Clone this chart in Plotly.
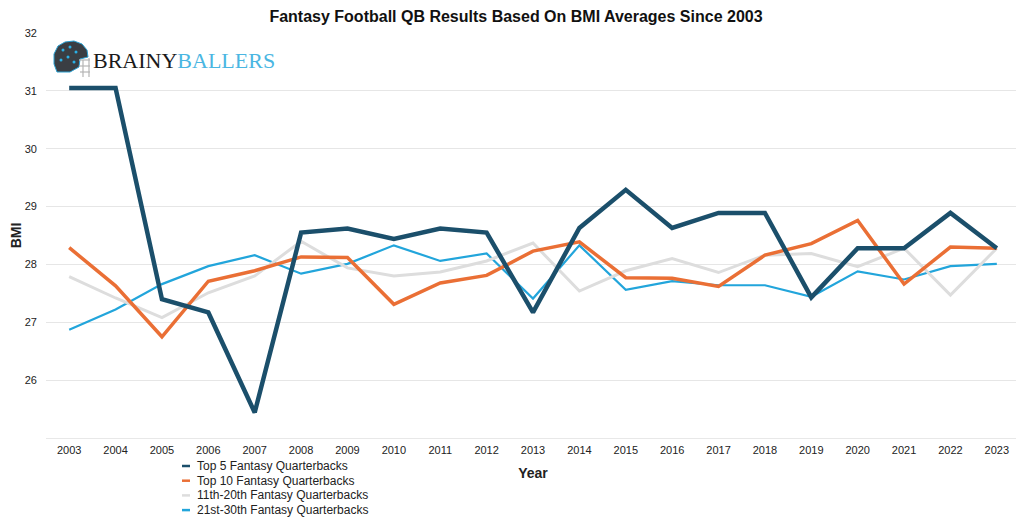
import plotly.graph_objects as go

years = list(range(2003, 2024))
top5 = [31.05, 31.05, 27.40, 27.17, 25.44, 28.55, 28.62, 28.44, 28.62, 28.55,
        27.17, 28.63, 29.29, 28.63, 28.89, 28.89, 27.43, 28.28, 28.28, 28.89, 28.28]
top10 = [28.29, 27.63, 26.75, 27.71, 27.89, 28.13, 28.12, 27.31, 27.68, 27.81,
         28.23, 28.39, 27.77, 27.76, 27.62, 28.16, 28.36, 28.76, 27.66, 28.30, 28.28]
qb11_20 = [27.79, 27.42, 27.08, 27.51, 27.80, 28.40, 27.94, 27.80, 27.87, 28.06,
           28.37, 27.54, 27.89, 28.10, 27.86, 28.16, 28.19, 27.96, 28.28, 27.47, 28.28]
qb21_30 = [26.87, 27.22, 27.66, 27.97, 28.16, 27.84, 28.01, 28.33, 28.06, 28.19,
           27.41, 28.33, 27.56, 27.71, 27.64, 27.64, 27.44, 27.88, 27.74, 27.97, 28.01]

names = ["Top 5 Fantasy Quarterbacks", "Top 10 Fantasy Quarterbacks",
         "11th-20th Fantasy Quarterbacks", "21st-30th Fantasy Quarterbacks"]
values = [top5, top10, qb11_20, qb21_30]
colors = ["#1b4f6b", "#ea6f35", "#dddddd", "#22a5db"]
widths = [4.5, 3.5, 3, 2.2]

# The page body adds an 8px offset; figure coords = screen coords - 8
OFF = 8
W, H = 1016, 509
L, R, T, B = 38, 4, 25, 79
PW, PH = W - L - R, H - T - B


def px(x):
    return (x - OFF - L) / PW


def py(y):
    return (H - B - (y - OFF)) / PH


fig = go.Figure()
for i in reversed(range(4)):
    fig.add_trace(go.Scatter(x=years, y=values[i], mode="lines", name=names[i],
                             showlegend=False,
                             line=dict(color=colors[i], width=widths[i])))

fig.update_layout(
    width=W, height=H,
    paper_bgcolor="white", plot_bgcolor="white",
    margin=dict(l=L, r=R, t=T, b=B, autoexpand=False),
    font=dict(family="Liberation Sans, Arial, sans-serif", color="#222222", size=11),
    title=dict(text="<b>Fantasy Football QB Results Based On BMI Averages Since 2003</b>",
               x=0.5, xanchor="center", y=1 - 8 / H, yanchor="middle",
               font=dict(size=16, color="#111111")),
    showlegend=False,
    xaxis=dict(range=[2002.5, 2023.5], tickmode="array", tickvals=years,
               ticktext=[str(y) for y in years], showgrid=False, zeroline=False,
               showline=True, linecolor="#e8e8e8", ticks="", automargin=False,
               ticklabelstandoff=2,
               tickfont=dict(size=11, color="#222222"),
               title=dict(text="<b>Year</b>", font=dict(size=14, color="#222222"), standoff=12)),
    yaxis=dict(range=[25, 32], tickmode="array", tickvals=[26, 27, 28, 29, 30, 31, 32],
               showgrid=True, gridcolor="#e6e6e6", zeroline=False, ticks="",
               automargin=False, ticklabelstandoff=8, tickfont=dict(size=11, color="#222222"),
               title=dict(text="<b>BMI</b>", font=dict(size=14, color="#222222"), standoff=8)),
)

# Legend drawn as annotations with short swatches
for i in range(4):
    yc = 466 + i * 14.7
    fig.add_shape(type="line", xref="paper", yref="paper",
                  x0=px(182), x1=px(190), y0=py(yc), y1=py(yc),
                  line=dict(color=colors[i], width=2.5))
    fig.add_annotation(xref="paper", yref="paper", x=px(195), y=py(yc),
                       xanchor="left", yanchor="middle", showarrow=False,
                       text=names[i], font=dict(size=12, color="#222222"))

# Brand logo text
fig.add_annotation(xref="paper", yref="paper", x=px(91), y=py(61),
                   xanchor="left", yanchor="middle", showarrow=False,
                   text="<span style='color:#1a1a1a'>BRAINY</span><span style='color:#4ab6e2'>BALLERS</span>",
                   font=dict(family="Liberation Serif, Times New Roman, serif", size=22))


# Simple helmet glyph
def pth(points):
    s = "M {} {}".format(px(points[0][0]), py(points[0][1]))
    for p in points[1:]:
        s += " L {} {}".format(px(p[0]), py(p[1]))
    return s + " Z"


helmet = [(57, 72), (54, 64), (54, 54), (58, 46), (65, 42), (74, 41), (82, 44),
          (87, 50), (88, 57), (80, 59), (79, 67), (70, 72)]
fig.add_shape(type="path", xref="paper", yref="paper", path=pth(helmet),
              fillcolor="#3a3e43", line=dict(color="#2a9fd0", width=1))
for (x0, y0, x1, y1) in [(79, 60, 90, 60), (79, 66, 90, 66), (80, 72, 90, 72),
                         (89, 58, 89, 77), (83, 60, 83, 77)]:
    fig.add_shape(type="line", xref="paper", yref="paper",
                  x0=px(x0), x1=px(x1), y0=py(y0), y1=py(y1),
                  line=dict(color="#b5b5b5", width=1.2))
for (cx, cy) in [(63, 50), (70, 47), (76, 52), (61, 60), (68, 57), (74, 62)]:
    fig.add_shape(type="circle", xref="paper", yref="paper",
                  x0=px(cx - 1.5), x1=px(cx + 1.5), y0=py(cy - 1.5), y1=py(cy + 1.5),
                  fillcolor="#2ab0e6", line=dict(width=0))

fig.write_html("out.html")
